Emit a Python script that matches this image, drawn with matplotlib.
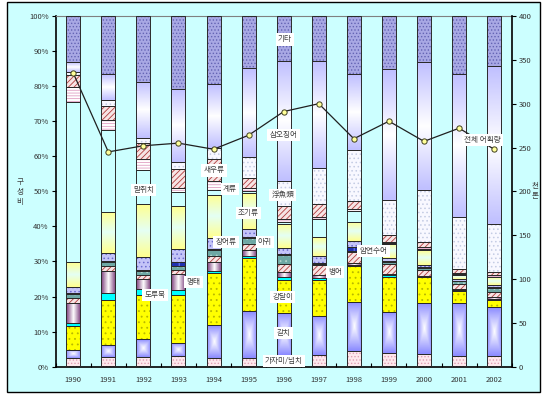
import numpy as np
import matplotlib
matplotlib.use('Agg')
import matplotlib.pyplot as plt
from matplotlib.patches import Rectangle

plt.rcParams['font.family'] = ['Noto Sans CJK KR', 'DejaVu Sans']
plt.rcParams['hatch.linewidth'] = 0.6

years = ['1990', '1991', '1992', '1993', '1994', '1995', '1996',
         '1997', '1998', '1999', '2000', '2001', '2002']

# composition shares (%), bottom to top
flatfish = [2.4, 2.9, 2.9, 3.1, 2.6, 2.6, 3.3, 3.3, 4.5, 3.8, 3.7, 3.0, 3.0]
hairtail = [2.5, 3.3, 5.0, 3.6, 9.3, 13.3, 12.0, 11.2, 14.0, 11.9, 14.6, 15.3, 13.9]
croaker_s = [6.8, 12.8, 12.5, 13.7, 14.9, 15.0, 9.5, 10.1, 10.3, 9.8, 7.2, 3.3, 2.1]
sandfish = [0.9, 1.9, 1.7, 1.4, 0.5, 0.8, 0.7, 0.7, 0.3, 0.7, 0.1, 0.2, 0.4]
pollock = [5.7, 6.4, 2.9, 4.5, 2.5, 1.6, 1.6, 0.9, 0.4, 0.3, 0.2, 0.3, 0.4]
pomfret = [1.2, 1.5, 1.1, 1.2, 1.9, 1.7, 2.3, 2.9, 3.1, 2.8, 1.8, 1.5, 1.6]
monkfish = [1.3, 1.1, 1.1, 1.3, 1.5, 1.7, 2.4, 0.3, 0.3, 0.5, 0.6, 0.7, 0.9]
greenling = [0.3, 0.2, 0.4, 1.0, 0.5, 0.4, 0.2, 0.3, 1.3, 0.2, 0.2, 0.2, 0.3]
eel = [1.7, 2.4, 3.6, 3.9, 2.9, 2.3, 1.8, 1.9, 1.6, 0.9, 0.6, 0.4, 0.7]
croaker = [7.1, 11.7, 15.1, 12.2, 12.4, 10.0, 7.0, 5.4, 5.5, 4.1, 4.2, 1.2, 2.2]
filefish = [45.5, 23.3, 9.8, 3.8, 1.4, 0.7, 0.6, 5.0, 3.1, 0.3, 0.3, 0.2, 0.2]
crab = [4.4, 2.8, 3.1, 1.3, 2.5, 0.9, 0.8, 0.8, 0.6, 0.4, 0.7, 0.3, 0.4]
shrimp = [3.4, 4.1, 4.5, 5.4, 6.3, 2.9, 3.5, 3.6, 2.2, 1.9, 1.4, 1.2, 1.0]
pelagic = [0.9, 1.6, 1.6, 1.9, 3.3, 6.0, 7.2, 10.2, 14.6, 10.0, 14.8, 14.8, 13.5]
squid = [2.7, 7.4, 16.0, 20.9, 18.1, 25.2, 34.3, 30.6, 21.6, 37.3, 36.4, 40.8, 45.2]
others = [13.2, 16.6, 18.7, 20.8, 19.4, 14.9, 12.8, 12.8, 16.6, 15.1, 13.2, 16.6, 14.2]

# total catch (thousand tonnes)
total_catch = [335, 245, 252, 255, 248, 264, 291, 300, 260, 280, 257, 272, 248]

# (values, face, hatch, hatch colour, gradient(kind, edge, mid))
series = [
    (flatfish, '#fde8ec', '.....', '#e0a0b4', None),
    (hairtail, '#a0a0ff', None, '#a0a0ff', ('box', '#8c8cff', '#ffffff')),
    (croaker_s, '#ffff00', '...', '#b8b800', None),
    (sandfish, '#00ffff', None, '#00ffff', None),
    (pollock, '#a070a0', None, '#a070a0', ('h', '#7a3a7a', '#ffffff')),
    (pomfret, '#f6e4e4', '//////', '#b03c3c', None),
    (monkfish, '#6ea8a4', '...', '#b0d4cc', None),
    (greenling, '#2030b0', '||', '#8898ff', None),
    (eel, '#c4c4f8', '....', '#6c6cd0', None),
    (croaker, '#ffff99', None, '#ffff99', ('v', '#ffff90', '#e4fff4')),
    (filefish, '#ccffff', None, '#ccffff', None),
    (crab, '#ffffff', '------', '#e0a0c4', None),
    (shrimp, '#f6e4e4', '//////', '#b03c3c', None),
    (pelagic, '#f8f8ff', '....', '#c4cce4', None),
    (squid, '#d0d0ff', None, '#d0d0ff', ('v', '#c0c0ff', '#ffffff')),
    (others, '#a8a8e4', '.....', '#6464b4', None),
]


def grad_fill(ax, patches, kind, c_edge, c_mid):
    e = np.array(matplotlib.colors.to_rgb(c_edge))
    m = np.array(matplotlib.colors.to_rgb(c_mid))
    u = np.abs(np.linspace(-1, 1, 41))
    if kind == 'h':
        t = np.tile(u[None, :], (2, 1))
    elif kind == 'v':
        t = np.tile(u[:, None], (1, 2))
    else:
        t = np.maximum(u[None, :], u[:, None])
    img = m * (1 - t[..., None]) + e * t[..., None]
    for p in patches:
        if p.get_height() <= 0:
            continue
        x0, y0 = p.get_x(), p.get_y()
        im = ax.imshow(img, extent=(x0, x0 + p.get_width(), y0, y0 + p.get_height()),
                       aspect='auto', interpolation='bilinear', zorder=1.5)
        im.set_clip_path(p)


fig = plt.figure(figsize=(5.42, 3.94), dpi=100, facecolor='white')
fig.patches.append(Rectangle((7 / 542, 2 / 394), 533 / 542, 390 / 394, transform=fig.transFigure,
                             facecolor='#ccffff', edgecolor='black', linewidth=1, zorder=-5))
ax = fig.add_axes([55.7 / 542, 1 - 366.7 / 394, 456 / 542, 350.7 / 394])
ax.set_facecolor('none')

x = np.arange(len(years))
bottom = np.zeros(len(years))
for vals, face, hatch, hcol, grad in series:
    vals = np.array(vals)
    bars = ax.bar(x, vals, 0.4, bottom=bottom, color=face, edgecolor=hcol,
                  hatch=hatch, linewidth=0, zorder=1)
    if grad is not None:
        grad_fill(ax, bars.patches, *grad)
    ax.bar(x, vals, 0.4, bottom=bottom, fill=False, edgecolor='#2a2a2a', linewidth=0.7, zorder=3)
    bottom += vals

ax.set_xlim(-0.5, 12.5)
ax.set_ylim(0, 100)
ax.set_yticks(range(0, 101, 10))
ax.set_yticklabels([f'{v}%' for v in range(0, 101, 10)])
ax.set_xticks(x)
ax.set_xticklabels(years)
ax.set_xticks(np.arange(-0.5, 13, 1), minor=True)
ax.tick_params(axis='x', which='major', length=0, pad=7, labelsize=5.5, labelcolor='#333333')
ax.tick_params(axis='x', which='minor', direction='in', length=3, width=0.8)
ax.tick_params(axis='y', direction='out', length=3, width=0.8, pad=2, labelsize=5.5,
               labelcolor='#333333')
ax.spines['top'].set_color('#808080')
ax.spines['right'].set_visible(False)
for s in ['left', 'bottom']:
    ax.spines[s].set_linewidth(1.2)

ax2 = ax.twinx()
ax2.set_ylim(0, 400)
ax2.set_yticks(range(0, 401, 50))
ax2.tick_params(axis='y', direction='out', length=3, width=0.8, pad=2, labelsize=5.5,
                labelcolor='#333333')
ax2.spines['right'].set_linewidth(1.2)
ax2.spines['top'].set_visible(False)
ax2.spines['left'].set_visible(False)
ax2.spines['bottom'].set_visible(False)
ax2.plot(x, total_catch, color='#202020', linewidth=0.9, marker='o', markersize=3.8,
         markerfacecolor='#ffff99', markeredgecolor='#404020', markeredgewidth=0.7, zorder=4)

labels = [
    ('기타', 6.03, 93.3), ('삼오징어', 5.99, 66.0), ('浮魚類', 5.97, 49.0),
    ('새우류', 4.01, 56.0), ('계류', 4.47, 50.7), ('말쥐치', 2.0, 50.4),
    ('조기류', 5.0, 43.8), ('장어류', 4.36, 35.5), ('아귀', 5.46, 35.5),
    ('명태', 3.43, 24.1), ('도루묵', 2.33, 20.4), ('강달이', 5.97, 19.8),
    ('갈치', 5.99, 9.6), ('가자미/넙치', 6.01, 1.6), ('병어', 7.46, 27.0),
    ('암연수어', 8.56, 33.0), ('전체 어획량', 11.67, 64.6),
]
for txt, lx, ly in labels:
    ax2.text(lx, ly, txt, transform=ax.transData, ha='center', va='center', fontsize=5.5,
             color='#404040', zorder=6,
             bbox=dict(facecolor='white', edgecolor='none', pad=1.6))

fig.text(20 / 542, 1 - 192 / 394, '구\n성\n비', ha='center', va='center', fontsize=5.5,
         color='#404040', linespacing=1.3)
fig.text(535 / 542, 1 - 191 / 394, '천\n톤', ha='center', va='center', fontsize=5.5,
         color='#404040', linespacing=1.3)

fig.savefig('out.png', dpi=100, facecolor='white')
